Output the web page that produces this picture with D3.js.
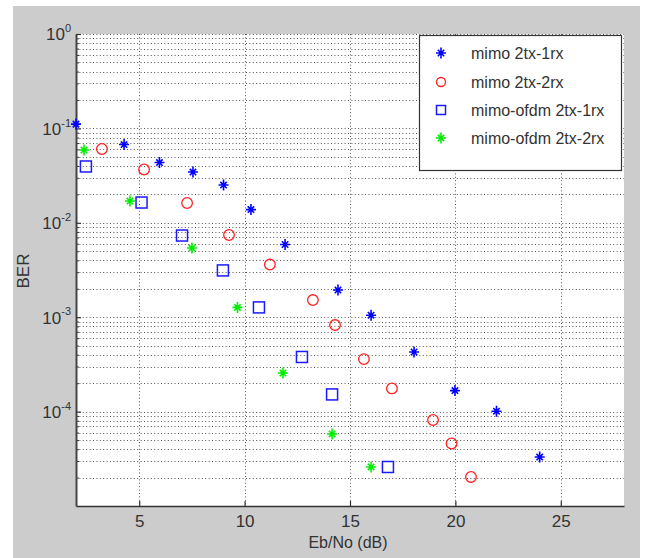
<!DOCTYPE html>
<html><head><meta charset="utf-8">
<script src="https://cdn.jsdelivr.net/npm/d3@7"></script>
<style>
body{margin:0;background:#fff;}
svg{display:block;font-family:"Liberation Sans",Arial,Helvetica,sans-serif;}
</style>
</head><body>
<svg id="c" width="648" height="558"></svg>
<script>
// ---- data ----
const xTickValues = [5, 10, 15, 20, 25];
const yTickExponents = [0, -1, -2, -3, -4];
const seriesNames = ["mimo 2tx-1rx", "mimo 2tx-2rx", "mimo-ofdm 2tx-1rx", "mimo-ofdm 2tx-2rx"];

const mimo21X = [2.0, 4.28, 5.96, 7.55, 9.0, 10.3, 11.92, 14.43, 16.0, 18.04, 19.98, 21.95, 24.0];
const mimo21Y = [0.111, 0.0675, 0.0435, 0.0345, 0.0251, 0.0138, 0.00589, 0.00194, 0.00105, 4.28e-4, 1.67e-4, 1.01e-4, 3.3e-5];

const mimo22X = [3.23, 5.23, 7.27, 9.26, 11.2, 13.24, 14.29, 15.66, 16.99, 18.94, 19.82, 20.74];
const mimo22Y = [0.0605, 0.0367, 0.0162, 0.00743, 0.00361, 0.00152, 8.26e-4, 3.6e-4, 1.76e-4, 8.15e-5, 4.59e-5, 2.03e-5];

const ofdm21X = [2.47, 5.11, 7.03, 8.97, 10.68, 12.72, 14.15, 16.8];
const ofdm21Y = [0.0395, 0.0164, 0.00733, 0.00313, 0.00127, 3.79e-4, 1.52e-4, 2.59e-5];

const ofdm22X = [2.38, 4.56, 7.5, 9.66, 11.82, 14.15, 16.0];
const ofdm22Y = [0.059, 0.017, 0.0054, 0.00127, 2.56e-4, 5.8e-5, 2.59e-5];

// ---- layout ----
const svg = d3.select("#c");
const L = 76, R = 624, T = 34, B = 506;
const x = d3.scaleLinear().domain([2, 28]).range([L, R]);
const y = d3.scaleLog().domain([1e-5, 1]).range([B, T]);

svg.append("rect").attr("x", 13).attr("y", 6).attr("width", 627).attr("height", 552).attr("fill", "#cccccc");
svg.append("rect").attr("x", L).attr("y", T).attr("width", R - L).attr("height", B - T).attr("fill", "#ffffff");

// grid values
const majorVals = yTickExponents.map(e => Math.pow(10, e));
const minorVals = [];
for (let e = -5; e <= -1; e++) {
  for (let m = 2; m <= 9; m++) minorVals.push(m * Math.pow(10, e));
}
const allH = majorVals.concat(minorVals);

const grid = svg.append("g").attr("stroke", "#555").attr("stroke-width", 1).attr("stroke-dasharray", "1,2.4");
grid.selectAll("line.h").data(allH).join("line")
  .attr("x1", L).attr("x2", R)
  .attr("y1", d => Math.round(y(d)) + 0.5).attr("y2", d => Math.round(y(d)) + 0.5);
grid.selectAll("line.v").data(xTickValues).join("line")
  .attr("y1", T).attr("y2", B)
  .attr("x1", d => Math.round(x(d)) + 0.5).attr("x2", d => Math.round(x(d)) + 0.5);

// ---- axes ----
const xAxis = d3.axisBottom(x).tickValues(xTickValues).tickSizeInner(-5).tickSizeOuter(0).tickPadding(9);
const gx = svg.append("g").attr("transform", `translate(0,${B})`).call(xAxis);
gx.select(".domain").attr("stroke", "#333").attr("stroke-width", 1.5);
gx.selectAll(".tick line").attr("stroke", "#333").attr("stroke-width", 1.2);
gx.selectAll(".tick text").attr("fill", "#333").attr("font-size", 17).attr("font-family", null);

const yMinor = d3.axisLeft(y).tickValues(minorVals).tickSizeInner(-3).tickSizeOuter(0).tickFormat("");
const gym = svg.append("g").attr("transform", `translate(${L},0)`).call(yMinor);
gym.select(".domain").remove();
gym.selectAll(".tick line").attr("stroke", "#333");

const yAxis = d3.axisLeft(y).tickValues(majorVals).tickSizeInner(-5).tickSizeOuter(0).tickFormat("");
const gy = svg.append("g").attr("transform", `translate(${L},0)`).call(yAxis);
gy.select(".domain").attr("stroke", "#444").attr("stroke-width", 2);
gy.selectAll(".tick line").attr("stroke", "#333").attr("stroke-width", 1.2);
gy.selectAll(".tick").each(function(d, i) {
  const t = d3.select(this).append("text")
    .attr("x", -5).attr("y", 0).attr("text-anchor", "end")
    .attr("fill", "#333").attr("font-size", 17).attr("dy", "0.35em");
  t.append("tspan").text("10");
  t.append("tspan").attr("font-size", 11).attr("dy", "-0.75em").text(String(yTickExponents[i]));
});

// axis labels
svg.append("text").attr("x", (L + R) / 2 - 2).attr("y", 548).attr("text-anchor", "middle")
  .attr("fill", "#333").attr("font-size", 16).text("Eb/No (dB)");
svg.append("text").attr("transform", "translate(29,271) rotate(-90)").attr("text-anchor", "middle")
  .attr("fill", "#333").attr("font-size", 17).text("BER");

// ---- markers ----
const starPath = "M-5,0L5,0M0,-5.5L0,5.5M-3.2,-3.2L3.2,3.2M-3.2,3.2L3.2,-3.2";
function drawStars(g, xs, ys, color) {
  g.selectAll(null).data(xs.map((v, i) => [v, ys[i]])).join("path")
    .attr("transform", d => `translate(${x(d[0])},${y(d[1])})`)
    .attr("d", starPath).attr("stroke", color).attr("stroke-width", 1.6).attr("fill", "none");
}
function drawCircles(g, xs, ys, color) {
  g.selectAll(null).data(xs.map((v, i) => [v, ys[i]])).join("circle")
    .attr("cx", d => x(d[0])).attr("cy", d => y(d[1])).attr("r", 5.3)
    .attr("stroke", color).attr("stroke-width", 1.3).attr("fill", "none");
}
function drawSquares(g, xs, ys, color) {
  g.selectAll(null).data(xs.map((v, i) => [v, ys[i]])).join("rect")
    .attr("x", d => x(d[0]) - 5.5).attr("y", d => y(d[1]) - 5.5).attr("width", 11).attr("height", 11)
    .attr("stroke", color).attr("stroke-width", 1.5).attr("fill", "none");
}
const marks = svg.append("g");
drawStars(marks.append("g"), mimo21X, mimo21Y, "#0000ff");
drawCircles(marks.append("g"), mimo22X, mimo22Y, "#ff2020");
drawSquares(marks.append("g"), ofdm21X, ofdm21Y, "#1a1aff");
drawStars(marks.append("g"), ofdm22X, ofdm22Y, "#00ee00");

// ---- legend ----
const lg = svg.append("g");
lg.append("rect").attr("x", 419.5).attr("y", 35.5).attr("width", 202).attr("height", 135)
  .attr("fill", "#fff").attr("stroke", "#333").attr("stroke-width", 1.2);
const rowY = [53, 82, 110, 138];
const legColors = ["#0000ff", "#ff2020", "#1a1aff", "#00ee00"];
const legTypes = ["star", "circle", "square", "star"];
seriesNames.forEach((name, i) => {
  const cy = rowY[i], cx = 441;
  if (legTypes[i] === "star") {
    lg.append("path").attr("transform", `translate(${cx},${cy})`).attr("d", starPath)
      .attr("stroke", legColors[i]).attr("stroke-width", 1.6).attr("fill", "none");
  } else if (legTypes[i] === "circle") {
    lg.append("circle").attr("cx", cx).attr("cy", cy).attr("r", 4.5)
      .attr("stroke", legColors[i]).attr("stroke-width", 1.3).attr("fill", "none");
  } else {
    lg.append("rect").attr("x", cx - 4.5).attr("y", cy - 4.5).attr("width", 9).attr("height", 9)
      .attr("stroke", legColors[i]).attr("stroke-width", 1.5).attr("fill", "none");
  }
  lg.append("text").attr("x", 471).attr("y", cy + 5.5).attr("fill", "#333")
    .attr("font-size", 16).text(name);
});
</script>
</body></html>
